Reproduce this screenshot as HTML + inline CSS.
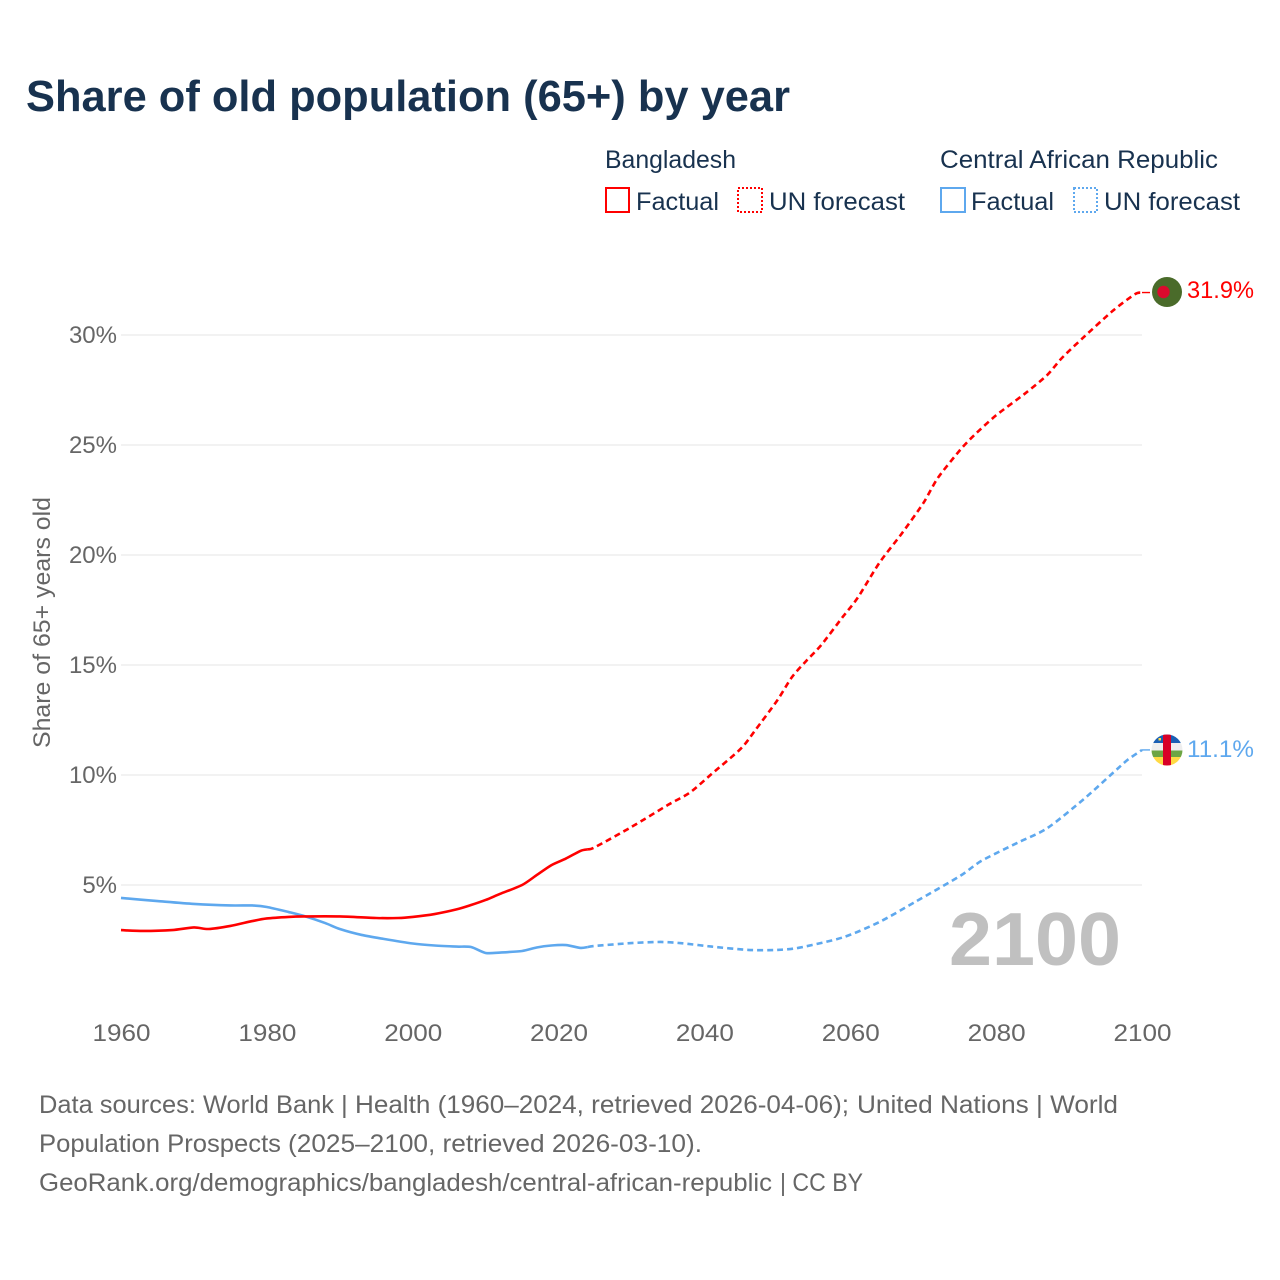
<!DOCTYPE html>
<html lang="en">
<head>
<meta charset="utf-8">
<title>Share of old population (65+) by year</title>
<style>
html,body{margin:0;padding:0;background:#fff;}
svg{display:block;font-family:"Liberation Sans",sans-serif;}
</style>
</head>
<body>
<svg id="chart" xmlns="http://www.w3.org/2000/svg" width="1280" height="1280" viewBox="0 0 1280 1280">
  <rect x="0" y="0" width="1280" height="1280" fill="#fff"/>
  <text x="26" y="111" font-size="44" font-weight="bold" fill="#18324f" textLength="764" lengthAdjust="spacingAndGlyphs">Share of old population (65+) by year</text>

  <g font-size="25" fill="#18324f">
    <text x="605" y="168" textLength="131" lengthAdjust="spacingAndGlyphs">Bangladesh</text>
    <text x="940" y="168" textLength="278" lengthAdjust="spacingAndGlyphs">Central African Republic</text>
    <rect x="606" y="188" width="23" height="24" fill="none" stroke="#ff0000" stroke-width="2"/>
    <text x="636" y="210" textLength="83" lengthAdjust="spacingAndGlyphs">Factual</text>
    <rect x="738" y="188" width="24" height="24" fill="none" stroke="#ff0000" stroke-width="2" stroke-dasharray="2 2"/>
    <text x="769" y="210" textLength="136" lengthAdjust="spacingAndGlyphs">UN forecast</text>
    <rect x="941" y="188" width="24" height="24" fill="none" stroke="#5ea8ee" stroke-width="2"/>
    <text x="971" y="210" textLength="83" lengthAdjust="spacingAndGlyphs">Factual</text>
    <rect x="1074" y="188" width="23" height="24" fill="none" stroke="#5ea8ee" stroke-width="2" stroke-dasharray="2 2"/>
    <text x="1104" y="210" textLength="136" lengthAdjust="spacingAndGlyphs">UN forecast</text>
  </g>

  <g id="grid"></g>
  <g id="yticks" font-size="24" fill="#666"></g>
  <g id="xticks" font-size="24" fill="#666"></g>
  <text transform="translate(50,748) rotate(-90)" font-size="24" fill="#666" textLength="251" lengthAdjust="spacingAndGlyphs">Share of 65+ years old</text>

  <text x="949" y="965" font-size="75" font-weight="bold" fill="#c0c0c0" textLength="172" lengthAdjust="spacingAndGlyphs">2100</text>

  <g id="series"></g>

  <g>
    <circle cx="1167" cy="292" r="15" fill="#4a6b2a"/>
    <circle cx="1163.5" cy="292" r="6.2" fill="#dc0a2d"/>
  </g>
  <g>
    <clipPath id="car-clip"><circle cx="1167" cy="750" r="15.5"/></clipPath>
    <g clip-path="url(#car-clip)">
      <rect x="1151" y="734" width="32" height="9" fill="#1a5fb4"/>
      <rect x="1151" y="743" width="32" height="7.5" fill="#eeeeee"/>
      <rect x="1151" y="750.5" width="32" height="6.5" fill="#6da544"/>
      <rect x="1151" y="757" width="32" height="10" fill="#ffda44"/>
      <rect x="1163" y="734" width="8" height="32" fill="#d80027"/>
      <rect x="1158.5" y="738" width="2.5" height="2.5" fill="#ffda44"/>
    </g>
  </g>
  <text x="1187" y="298" font-size="24" fill="#ff0000" textLength="67" lengthAdjust="spacingAndGlyphs">31.9%</text>
  <text x="1187" y="757" font-size="24" fill="#5ea8ee" textLength="67" lengthAdjust="spacingAndGlyphs">11.1%</text>

  <g font-size="25" fill="#666">
    <g>
      <text x="39" y="1113" textLength="295" lengthAdjust="spacingAndGlyphs">Data sources: World Bank</text>
      <text x="341" y="1113" textLength="508" lengthAdjust="spacingAndGlyphs">| Health (1960–2024, retrieved 2026-04-06);</text>
      <text x="857" y="1113" textLength="261" lengthAdjust="spacingAndGlyphs">United Nations | World</text>
    </g>
    <g>
      <text x="39" y="1152" textLength="242" lengthAdjust="spacingAndGlyphs">Population Prospects</text>
      <text x="288" y="1152" textLength="414" lengthAdjust="spacingAndGlyphs">(2025–2100, retrieved 2026-03-10).</text>
    </g>
    <g>
      <text x="39" y="1191" textLength="733" lengthAdjust="spacingAndGlyphs">GeoRank.org/demographics/bangladesh/central-african-republic</text>
      <text x="780" y="1191" textLength="83" lengthAdjust="spacingAndGlyphs">| CC BY</text>
    </g>
  </g>
</svg>

<script>
const yTickValues = [5, 10, 15, 20, 25, 30];
const xTickValues = [1960, 1980, 2000, 2020, 2040, 2060, 2080, 2100];

const bdFactualYears = [1960,1963,1967,1970,1972,1975,1978,1980,1983,1985,1990,1995,1998,2000,2003,2006,2008,2010,2012,2015,2017,2019,2021,2023,2024];
const bdFactualValues = [2.95,2.91,2.95,3.07,3.0,3.14,3.36,3.48,3.55,3.57,3.57,3.5,3.5,3.55,3.68,3.89,4.09,4.32,4.6,5.0,5.45,5.9,6.2,6.55,6.62];
const bdForecastYears = [2024,2025,2030,2035,2038,2041,2045,2047,2050,2052,2054,2056,2059,2061,2064,2067,2070,2072,2075,2077,2080,2084,2087,2089,2092,2096,2099,2100];
const bdForecastValues = [6.62,6.72,7.64,8.64,9.2,10.05,11.2,12.05,13.4,14.45,15.2,15.9,17.2,18.05,19.65,20.95,22.35,23.5,24.75,25.45,26.35,27.35,28.18,28.95,29.9,31.1,31.85,31.93];

const carFactualYears = [1960,1965,1970,1975,1978,1980,1983,1985,1988,1990,1993,1996,2000,2003,2006,2008,2010,2012,2015,2017,2019,2021,2023,2024];
const carFactualValues = [4.41,4.27,4.14,4.07,4.07,4.0,3.77,3.6,3.27,3.0,2.73,2.55,2.34,2.25,2.2,2.18,1.91,1.93,2.0,2.16,2.25,2.27,2.14,2.18];
const carForecastYears = [2024,2025,2030,2034,2037,2041,2046,2050,2053,2059,2064,2069,2075,2078,2083,2087,2092,2096,2098,2100];
const carForecastValues = [2.18,2.23,2.36,2.41,2.35,2.2,2.05,2.05,2.15,2.62,3.32,4.25,5.4,6.1,6.93,7.58,8.9,10.09,10.68,11.14];

const svgNS = 'http://www.w3.org/2000/svg';
function xScale(year) { return 121 + (year - 1960) * (1021 / 140); }
function yScale(pct) { return 995 - pct * 22; }
function pathFrom(years, values) {
  const pts = years.map(function (yr, i) { return [xScale(yr), yScale(values[i])]; });
  const k = 0.13;
  let d = 'M' + pts[0][0].toFixed(2) + ' ' + pts[0][1].toFixed(2);
  for (let i = 0; i < pts.length - 1; i++) {
    const p0 = pts[Math.max(i - 1, 0)];
    const p1 = pts[i];
    const p2 = pts[i + 1];
    const p3 = pts[Math.min(i + 2, pts.length - 1)];
    d += ' C' + (p1[0] + (p2[0] - p0[0]) * k).toFixed(2) + ' ' + (p1[1] + (p2[1] - p0[1]) * k).toFixed(2) +
         ' ' + (p2[0] - (p3[0] - p1[0]) * k).toFixed(2) + ' ' + (p2[1] - (p3[1] - p1[1]) * k).toFixed(2) +
         ' ' + p2[0].toFixed(2) + ' ' + p2[1].toFixed(2);
  }
  return d;
}

const gridGroup = document.getElementById('grid');
const yTickGroup = document.getElementById('yticks');
yTickValues.forEach(function (v) {
  const line = document.createElementNS(svgNS, 'line');
  
  
  line.setAttribute('x1', xScale(1960));
  line.setAttribute('x2', xScale(2100));
  line.setAttribute('y1', yScale(v));
  line.setAttribute('y2', yScale(v));
  line.setAttribute('stroke', '#eeeeee');
  line.setAttribute('stroke-width', '1.6');
  gridGroup.appendChild(line);

  const label = document.createElementNS(svgNS, 'text');
  
  
  label.setAttribute('x', 117);
  label.setAttribute('y', yScale(v) + 8);
  label.setAttribute('text-anchor', 'end');
  label.textContent = v + '%';
  yTickGroup.appendChild(label);
});

const xTickGroup = document.getElementById('xticks');
xTickValues.forEach(function (yr) {
  const label = document.createElementNS(svgNS, 'text');
  
  
  label.setAttribute('x', xScale(yr) - 28.5);
  label.setAttribute('y', 1041);
  label.setAttribute('textLength', '58');
  label.setAttribute('lengthAdjust', 'spacingAndGlyphs');
  label.textContent = String(yr);
  xTickGroup.appendChild(label);
});

const seriesGroup = document.getElementById('series');
function addLine(name, years, values, color, dashed) {
  const p = document.createElementNS(svgNS, 'path');
  
  
  p.setAttribute('d', pathFrom(years, values));
  p.setAttribute('fill', 'none');
  p.setAttribute('stroke', color);
  p.setAttribute('stroke-width', '2.6');
  p.setAttribute('stroke-linejoin', 'round');
  if (dashed) { p.setAttribute('stroke-dasharray', '6 4'); }
  seriesGroup.appendChild(p);
}
function addConnector(name, value, color) {
  const c = document.createElementNS(svgNS, 'line');
  
  
  c.setAttribute('x1', xScale(2100));
  c.setAttribute('x2', xScale(2100) + 8);
  c.setAttribute('y1', yScale(value));
  c.setAttribute('y2', yScale(value));
  c.setAttribute('stroke', color);
  c.setAttribute('stroke-width', '1.4');
  seriesGroup.appendChild(c);
}
addLine('line-car-factual', carFactualYears, carFactualValues, '#5ea8ee', false);
addLine('line-car-forecast', carForecastYears, carForecastValues, '#5ea8ee', true);
addLine('line-bangladesh-factual', bdFactualYears, bdFactualValues, '#ff0000', false);
addLine('line-bangladesh-forecast', bdForecastYears, bdForecastValues, '#ff0000', true);
addConnector('connector-car', carForecastValues[carForecastValues.length - 1], '#5ea8ee');
addConnector('connector-bangladesh', bdForecastValues[bdForecastValues.length - 1], '#ff0000');
</script>
</body>
</html>
